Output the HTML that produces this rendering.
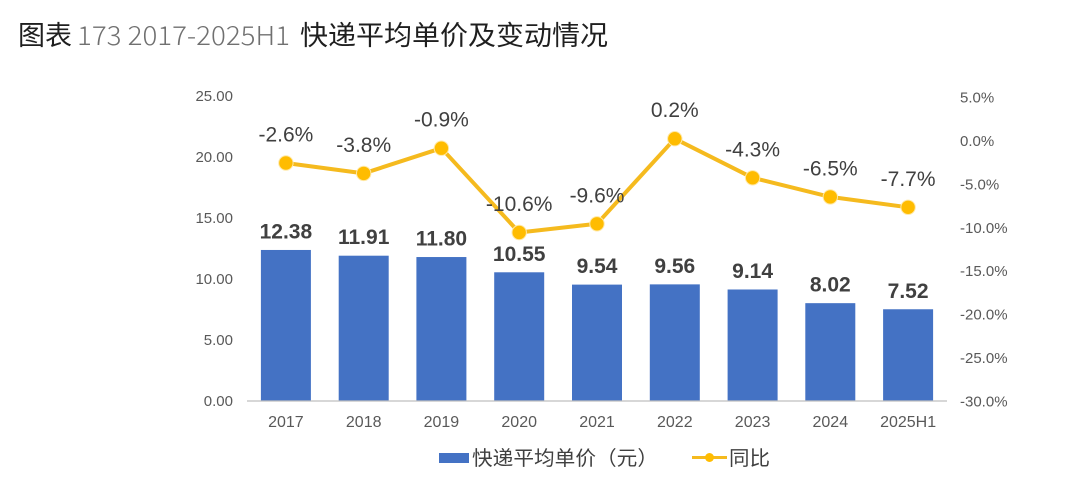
<!DOCTYPE html>
<html>
<head>
<meta charset="utf-8">
<style>
  html, body { margin: 0; padding: 0; background: #ffffff; }
  body { width: 1080px; height: 494px; overflow: hidden; }
  svg { display: block; }
  .t { font-family: "Liberation Sans", "Noto Sans CJK SC", sans-serif; }
  .cjk { font-family: "Noto Sans CJK SC", "Liberation Sans", sans-serif; }
</style>
</head>
<body>
<svg width="1080" height="494" viewBox="0 0 1080 494" xmlns="http://www.w3.org/2000/svg">
  <rect x="0" y="0" width="1080" height="494" fill="#ffffff"/>

  <!-- Title -->
  <text class="cjk" x="18" y="45" font-size="27" fill="#1f1f1f" textLength="54" lengthAdjust="spacingAndGlyphs">图表</text>
  <text class="cjk" x="77" y="45" font-size="26" font-weight="300" fill="#707070" textLength="213" lengthAdjust="spacingAndGlyphs">173 2017-2025H1</text>
  <text class="cjk" x="300" y="45" font-size="27" fill="#1f1f1f" textLength="308" lengthAdjust="spacingAndGlyphs">快递平均单价及变动情况</text>

  <!-- Left axis labels -->
  <g class="t" font-size="15" fill="#595959" text-anchor="end">
    <text x="233" y="406">0.00</text>
    <text x="233" y="345">5.00</text>
    <text x="233" y="284">10.00</text>
    <text x="233" y="223">15.00</text>
    <text x="233" y="162">20.00</text>
    <text x="233" y="101">25.00</text>
  </g>

  <!-- Right axis labels -->
  <g class="t" font-size="15" fill="#595959" text-anchor="start">
    <text x="960" y="406.5">-30.0%</text>
    <text x="960" y="363.1">-25.0%</text>
    <text x="960" y="319.6">-20.0%</text>
    <text x="960" y="276.2">-15.0%</text>
    <text x="960" y="232.8">-10.0%</text>
    <text x="960" y="189.4">-5.0%</text>
    <text x="960" y="145.9">0.0%</text>
    <text x="960" y="102.5">5.0%</text>
  </g>

  <!-- Bars -->
  <g fill="#4472C4">
    <rect x="260.9" y="249.96" width="50" height="151.04"/>
    <rect x="338.7" y="255.70" width="50" height="145.30"/>
    <rect x="416.4" y="257.04" width="50" height="143.96"/>
    <rect x="494.2" y="272.29" width="50" height="128.71"/>
    <rect x="572.0" y="284.61" width="50" height="116.39"/>
    <rect x="649.8" y="284.37" width="50" height="116.63"/>
    <rect x="727.6" y="289.49" width="50" height="111.51"/>
    <rect x="805.3" y="303.16" width="50" height="97.84"/>
    <rect x="883.1" y="309.26" width="50" height="91.74"/>
  </g>

  <!-- X axis line -->
  <line x1="247" y1="401" x2="947" y2="401" stroke="#bfbfbf" stroke-width="1.2"/>

  <!-- X labels -->
  <g class="t" font-size="16" fill="#595959" text-anchor="middle">
    <text x="285.9" y="427">2017</text>
    <text x="363.7" y="427">2018</text>
    <text x="441.4" y="427">2019</text>
    <text x="519.2" y="427">2020</text>
    <text x="597.0" y="427">2021</text>
    <text x="674.8" y="427">2022</text>
    <text x="752.6" y="427">2023</text>
    <text x="830.3" y="427">2024</text>
    <text x="908.1" y="427">2025H1</text>
  </g>

  <!-- Bar value labels -->
  <g class="t" font-size="21" font-weight="bold" fill="#404040" text-anchor="middle">
    <text x="285.9" y="238.5">12.38</text>
    <text x="363.7" y="244.2">11.91</text>
    <text x="441.4" y="245.5">11.80</text>
    <text x="519.2" y="260.8">10.55</text>
    <text x="597.0" y="273.1">9.54</text>
    <text x="674.8" y="272.9">9.56</text>
    <text x="752.6" y="278.0">9.14</text>
    <text x="830.3" y="291.7">8.02</text>
    <text x="908.1" y="297.8">7.52</text>
  </g>

  <!-- Line series -->
  <polyline fill="none" stroke="#F5BA1E" stroke-width="4" stroke-linejoin="round"
    points="285.9,163.0 363.7,173.4 441.4,148.2 519.2,232.5 597.0,223.8 674.8,138.7 752.6,177.8 830.3,196.9 908.1,207.3"/>
  <g fill="#FFBC00" stroke="#FFE9A8" stroke-width="1">
    <circle cx="285.9" cy="163.0" r="7.2"/>
    <circle cx="363.7" cy="173.4" r="7.2"/>
    <circle cx="441.4" cy="148.2" r="7.2"/>
    <circle cx="519.2" cy="232.5" r="7.2"/>
    <circle cx="597.0" cy="223.8" r="7.2"/>
    <circle cx="674.8" cy="138.7" r="7.2"/>
    <circle cx="752.6" cy="177.8" r="7.2"/>
    <circle cx="830.3" cy="196.9" r="7.2"/>
    <circle cx="908.1" cy="207.3" r="7.2"/>
  </g>

  <!-- Percent labels -->
  <g class="t" font-size="21" fill="#404040" text-anchor="middle">
    <text x="285.9" y="141.5">-2.6%</text>
    <text x="363.7" y="151.9">-3.8%</text>
    <text x="441.4" y="126.7">-0.9%</text>
    <text x="519.2" y="211.0">-10.6%</text>
    <text x="597.0" y="202.3">-9.6%</text>
    <text x="674.8" y="117.2">0.2%</text>
    <text x="752.6" y="156.3">-4.3%</text>
    <text x="830.3" y="175.4">-6.5%</text>
    <text x="908.1" y="185.8">-7.7%</text>
  </g>

  <!-- Legend -->
  <rect x="439" y="453" width="30" height="10" fill="#4472C4"/>
  <text class="cjk" x="472" y="465" font-size="20" fill="#404040" textLength="186" lengthAdjust="spacingAndGlyphs">快递平均单价（元）</text>
  <line x1="692" y1="457.5" x2="727" y2="457.5" stroke="#F5BA1E" stroke-width="3"/>
  <circle cx="709.5" cy="457.5" r="4.5" fill="#FFBC00"/>
  <text class="cjk" x="729" y="465" font-size="20" fill="#404040" textLength="41" lengthAdjust="spacingAndGlyphs">同比</text>
</svg>
</body>
</html>
